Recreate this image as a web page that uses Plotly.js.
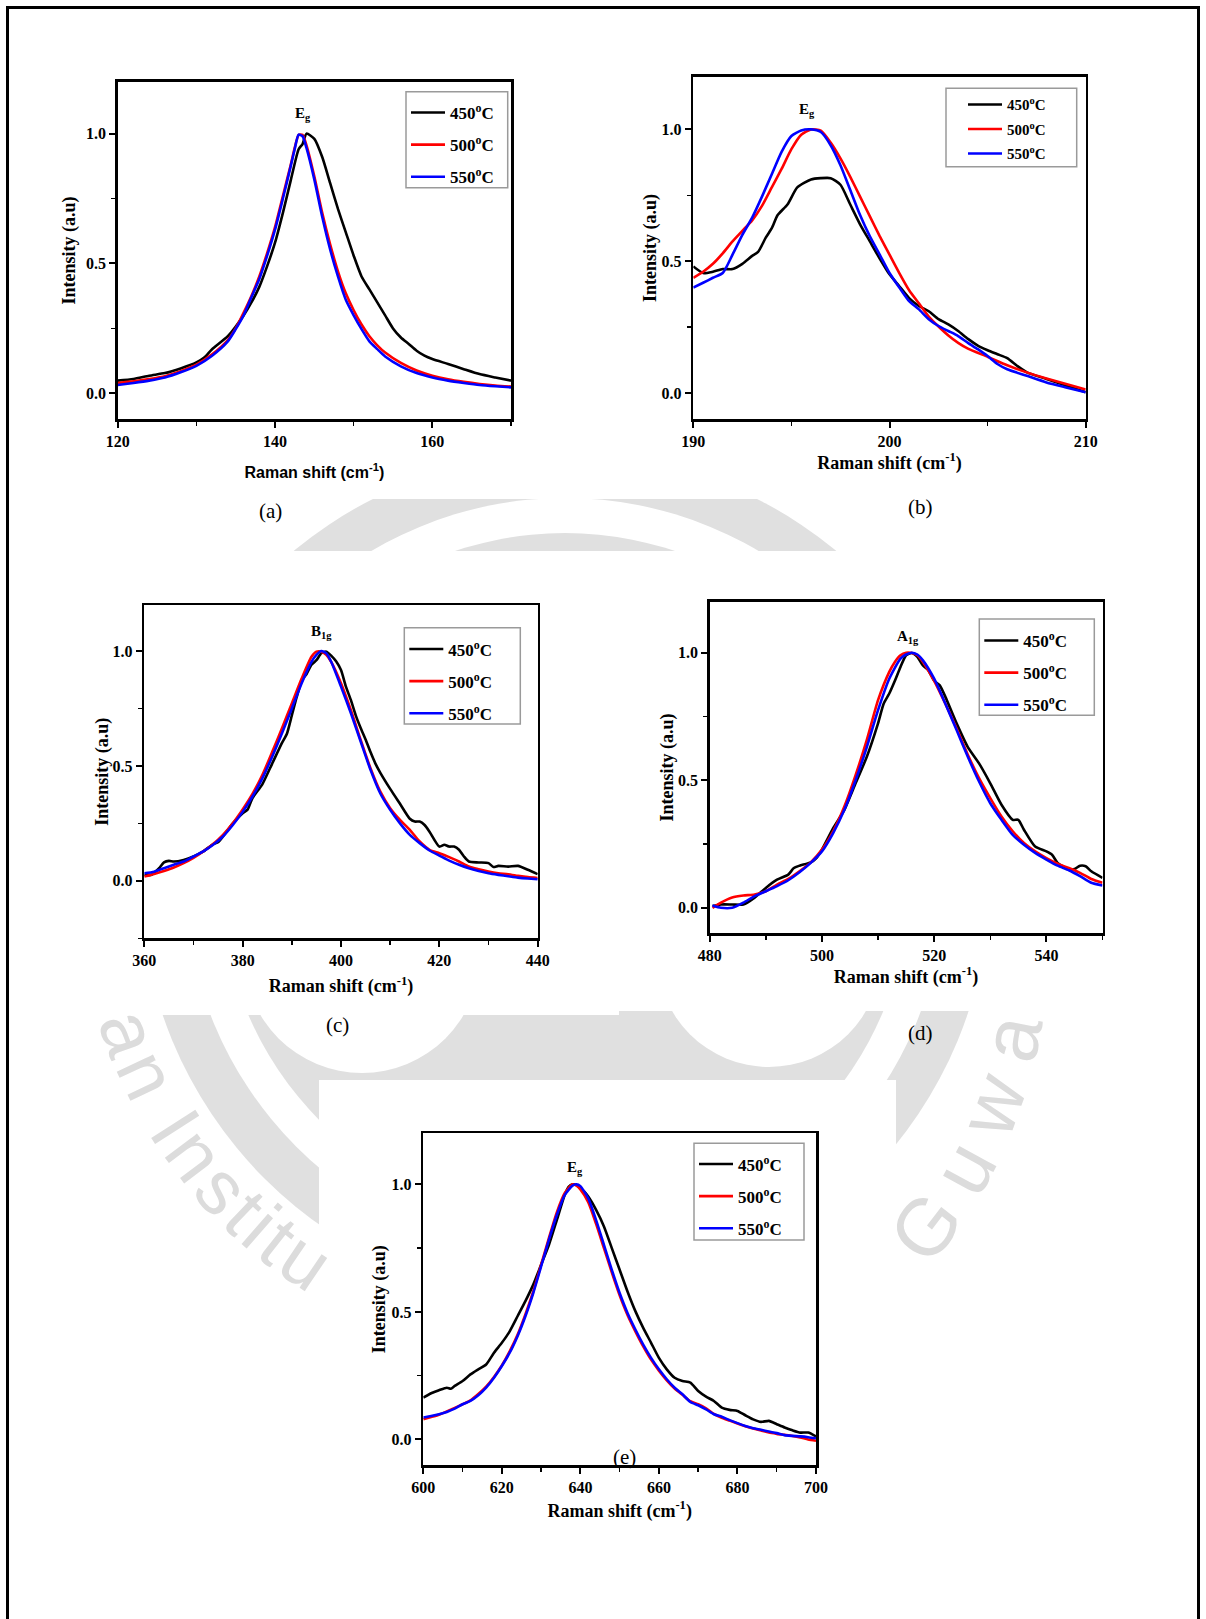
<!DOCTYPE html>
<html><head><meta charset="utf-8">
<script src="https://cdn.plot.ly/plotly-3.0.1.min.js"></script>
<style>html,body{margin:0;padding:0;background:#fff;}#chart{width:1206px;height:1619px;}</style>
</head><body><div id="chart"></div>
<script>
// ---------------- DATA ----------------
const legendNames = ['450<sup>o</sup>C', '500<sup>o</sup>C', '550<sup>o</sup>C'];

// (a) Eg ~143 cm-1
const a450x = [120,122,124,126,128,130,131,132,134,136,137,138,139,140,141,142,143,143.5,144,145,146,147,148,149,150,151,152,153,154,155,156,157,158,159,160,162,164,166,168,170];
const a450y = [0.049,0.055,0.068,0.078,0.096,0.119,0.138,0.17,0.22,0.30,0.35,0.41,0.49,0.58,0.695,0.82,0.94,0.96,1.0,0.98,0.91,0.81,0.71,0.62,0.53,0.45,0.40,0.35,0.30,0.25,0.215,0.19,0.164,0.145,0.132,0.113,0.093,0.074,0.061,0.049];
const a500x = [120,122,124,126,128,130,132,134,135,136,137,138,139,140,141,142,142.5,143,143.5,144,145,146,147,148,149,150,151,152,153,154,156,158,160,162,164,166,168,170];
const a500y = [0.04,0.046,0.055,0.066,0.085,0.11,0.15,0.205,0.25,0.31,0.375,0.45,0.54,0.64,0.76,0.88,0.945,0.995,0.995,0.955,0.835,0.695,0.575,0.47,0.385,0.32,0.265,0.22,0.185,0.157,0.117,0.088,0.068,0.054,0.044,0.036,0.030,0.026];
const a550x = [120,122,124,126,128,130,132,134,135,136,137,138,139,140,141,142,142.5,143,143.5,144,145,146,147,148,149,150,151,152,153,154,156,158,160,162,164,166,168,170];
const a550y = [0.032,0.04,0.049,0.061,0.081,0.106,0.145,0.20,0.247,0.30,0.37,0.44,0.53,0.63,0.75,0.875,0.94,0.996,0.99,0.945,0.823,0.68,0.555,0.45,0.36,0.30,0.247,0.20,0.17,0.142,0.104,0.078,0.061,0.049,0.04,0.032,0.027,0.023];

// (b) Eg ~196 cm-1
const b450x = [190,190.5,191,191.5,192,192.5,193,193.3,193.7,194,194.3,194.8,195.3,196,196.5,197,197.5,198,198.5,199,199.5,200,200.5,201,201.5,202,202.5,203,203.5,204,204.5,205,205.5,206,206.5,207,208,209,210];
const b450y = [0.48,0.455,0.46,0.47,0.47,0.49,0.52,0.535,0.59,0.625,0.675,0.715,0.78,0.81,0.815,0.815,0.79,0.715,0.64,0.575,0.51,0.45,0.405,0.36,0.33,0.31,0.28,0.26,0.235,0.205,0.18,0.162,0.147,0.132,0.103,0.078,0.053,0.028,0.003];
const b500x = [190,190.5,191,191.5,192,192.5,193,193.5,194,194.5,195,195.5,196,196.5,197,197.5,198,198.5,199,199.5,200,200.5,201,201.5,202,202.5,203,203.5,204,205,206,207,208,209,210];
const b500y = [0.437,0.46,0.49,0.53,0.575,0.615,0.655,0.71,0.78,0.85,0.925,0.98,1.0,0.995,0.95,0.89,0.82,0.745,0.67,0.595,0.525,0.455,0.39,0.34,0.29,0.252,0.218,0.19,0.168,0.137,0.105,0.078,0.055,0.034,0.013];
const b550x = [190,190.5,191,191.5,192,192.5,193,193.5,194,194.5,195,195.5,196,196.5,197,197.5,198,198.5,199,199.5,200,200.5,201,201.5,202,202.5,203,203.5,204,204.5,205,205.5,206,207,208,209,210];
const b550y = [0.40,0.418,0.437,0.455,0.525,0.60,0.665,0.745,0.83,0.915,0.975,0.996,1.0,0.99,0.94,0.864,0.77,0.675,0.594,0.525,0.455,0.40,0.348,0.317,0.28,0.254,0.235,0.216,0.19,0.166,0.14,0.11,0.09,0.065,0.04,0.021,0.003];

// (c) B1g ~396 cm-1
const c450x = [360,361.5,363,364,365,366,368,370,372,374,375,376,378,380,381,382,384,386,388,389,390,391,392,393,394,395,396,397,398,399,400,401,402,403,404,405,406,407,408,410,412,414,415,416,417,418,420,421,422,423,424,425,426,428,430,431,432,434,436,438,440];
const c450y = [0.026,0.026,0.055,0.08,0.087,0.084,0.091,0.106,0.128,0.16,0.168,0.193,0.25,0.294,0.31,0.36,0.42,0.51,0.60,0.64,0.72,0.80,0.87,0.90,0.94,0.96,0.99,0.997,0.98,0.955,0.917,0.845,0.787,0.72,0.665,0.615,0.56,0.51,0.47,0.40,0.335,0.27,0.258,0.258,0.243,0.214,0.149,0.157,0.149,0.149,0.135,0.106,0.084,0.08,0.077,0.06,0.065,0.062,0.065,0.048,0.029];
const c500x = [360,362,364,366,368,370,372,374,376,378,380,382,384,386,388,390,392,394,395,396,397,398,400,402,404,406,408,410,412,414,416,418,420,422,424,426,428,430,432,434,436,438,440];
const c500y = [0.019,0.03,0.043,0.058,0.077,0.10,0.128,0.16,0.20,0.25,0.31,0.378,0.46,0.56,0.664,0.772,0.88,0.975,0.997,0.997,0.983,0.953,0.86,0.743,0.613,0.49,0.388,0.316,0.265,0.222,0.171,0.135,0.12,0.103,0.084,0.062,0.05,0.04,0.033,0.029,0.022,0.016,0.012];
const c550x = [360,362,364,366,368,370,372,374,376,378,380,382,384,386,388,390,392,394,395,396,397,398,400,402,404,406,408,410,412,414,416,418,420,422,424,426,428,430,432,434,436,438,440];
const c550y = [0.033,0.04,0.055,0.07,0.084,0.106,0.128,0.157,0.193,0.243,0.30,0.367,0.446,0.54,0.642,0.75,0.86,0.953,0.983,1.0,0.99,0.953,0.845,0.73,0.606,0.483,0.38,0.309,0.25,0.20,0.164,0.132,0.11,0.088,0.07,0.055,0.043,0.033,0.026,0.02,0.014,0.01,0.007];

// (d) A1g ~515 cm-1
const d450x = [480.5,482,484,486,488,490,492,494,495,496,498,499,500,502,504,506,508,510,511,512,513,514,515,516,517,518,519,520,521,522,524,526,528,530,532,534,535,536,538,540,541,542,544,545,546,547,548,550];
const d450y = [0.007,0.013,0.013,0.013,0.04,0.078,0.11,0.13,0.156,0.165,0.178,0.195,0.228,0.312,0.384,0.488,0.592,0.723,0.80,0.84,0.89,0.944,0.99,0.999,0.984,0.95,0.93,0.89,0.872,0.827,0.723,0.63,0.566,0.488,0.404,0.345,0.345,0.306,0.24,0.221,0.208,0.176,0.15,0.152,0.165,0.163,0.143,0.117];
const d500x = [480.5,482,484,486,488,490,492,494,496,498,500,502,504,506,508,510,512,513,514,515,516,517,518,520,522,524,526,528,530,532,534,536,538,540,542,544,546,548,550];
const d500y = [0.0,0.02,0.04,0.048,0.052,0.065,0.091,0.113,0.143,0.178,0.228,0.30,0.397,0.52,0.658,0.814,0.925,0.964,0.99,1.0,0.999,0.99,0.964,0.89,0.80,0.703,0.60,0.508,0.43,0.358,0.30,0.254,0.221,0.195,0.173,0.156,0.137,0.113,0.098];
const d550x = [480.5,482,484,486,488,490,492,494,496,498,500,502,504,506,508,510,512,514,515,516,517,518,520,522,524,526,528,530,532,534,536,538,540,542,544,546,548,550];
const d550y = [0.009,0.0,0.0,0.02,0.046,0.065,0.085,0.108,0.139,0.176,0.221,0.293,0.384,0.50,0.63,0.775,0.898,0.977,0.993,1.0,0.993,0.97,0.898,0.80,0.697,0.592,0.495,0.41,0.345,0.286,0.247,0.215,0.189,0.165,0.147,0.124,0.098,0.087];

// (e) Eg ~639 cm-1
const e450x = [600,602,604,606,607,608,610,612,614,616,618,620,622,624,626,628,630,632,634,636,637,638,639,640,641,642,644,646,648,650,652,654,656,658,660,662,664,666,668,670,672,674,676,678,680,682,684,686,688,690,692,694,696,698,700];
const e450y = [0.164,0.181,0.193,0.203,0.199,0.21,0.229,0.255,0.275,0.294,0.34,0.379,0.424,0.483,0.542,0.607,0.685,0.763,0.86,0.958,0.99,1.0,0.997,0.984,0.971,0.952,0.90,0.835,0.75,0.665,0.58,0.503,0.4375,0.379,0.32,0.275,0.242,0.229,0.223,0.19,0.168,0.151,0.125,0.116,0.112,0.095,0.079,0.069,0.073,0.06,0.047,0.036,0.027,0.027,0.012];
const e500x = [600,602,604,606,608,610,612,614,616,618,620,622,624,626,628,630,632,634,636,638,639,640,642,644,646,648,650,652,654,656,658,660,662,664,666,668,670,672,674,676,678,680,682,684,686,688,690,692,694,696,698,700];
const e500y = [0.079,0.088,0.097,0.11,0.124,0.138,0.153,0.178,0.207,0.245,0.29,0.345,0.41,0.49,0.58,0.685,0.79,0.89,0.965,1.0,0.995,0.98,0.93,0.845,0.75,0.655,0.565,0.488,0.424,0.365,0.313,0.27,0.232,0.2,0.175,0.15,0.138,0.122,0.1,0.085,0.074,0.063,0.052,0.043,0.035,0.027,0.022,0.018,0.014,0.008,0.0,-0.005];
const e550x = [600,602,604,606,608,610,612,614,616,618,620,622,624,626,628,630,632,634,636,638,639,640,642,644,646,648,650,652,654,656,658,660,662,664,666,668,670,672,674,676,678,680,682,684,686,688,690,692,694,696,698,700];
const e550y = [0.086,0.092,0.099,0.108,0.121,0.138,0.151,0.173,0.203,0.242,0.288,0.34,0.405,0.483,0.574,0.678,0.783,0.88,0.958,0.995,1.0,0.993,0.945,0.86,0.763,0.665,0.574,0.496,0.431,0.372,0.32,0.275,0.236,0.203,0.177,0.147,0.134,0.118,0.099,0.089,0.076,0.064,0.053,0.044,0.038,0.031,0.025,0.017,0.014,0.012,0.009,0.005];

// ---------------- LAYOUT HELPERS ----------------
const W = 1206, H = 1619;
const px = v => v / W;
const py = v => 1 - v / H;
const SERIF = 'Liberation Serif, Times New Roman, serif';
const SANS = 'Liberation Sans, Arial, sans-serif';
const lineColors = ['#000000', '#ff0000', '#0000ff'];

const panels = [
  {xs:[a450x,a500x,a550x], ys:[a450y,a500y,a550y], xr:[120,170], yr:[-0.1,1.2], dt:20, mdt:10,
   box:[117.7,81.7,511,419.3], leg:[406,91.7,507.7,187.7], lpos:[406,95], lfont:17, lgap:7,
   peak:['E<sub>g</sub>',143.6,1.075], xfont:SANS, xsize:16, xstand:18, ystand:6, cap:['(a)',270,511]},
  {xs:[b450x,b500x,b550x], ys:[b450y,b500y,b550y], xr:[190,210], yr:[-0.1,1.2], dt:10, mdt:5,
   box:[693.3,76.7,1085.7,419.3], leg:[946,88.3,1076.7,166.7], lpos:[963,88.3], lfont:15, lgap:2,
   peak:['E<sub>g</sub>',195.8,1.072], xfont:SERIF, xsize:18, xstand:6, ystand:1, cap:['(b)',920,507]},
  {xs:[c450x,c500x,c550x], ys:[c450y,c500y,c550y], xr:[360,440], yr:[-0.25,1.2], dt:20, mdt:10,
   box:[144.3,605,537.7,938.3], leg:[404.3,627.7,520.3,724], lpos:[404.3,631.5], lfont:17, lgap:7,
   peak:['B<sub>1g</sub>',396.1,1.084], xfont:SERIF, xsize:18, xstand:12, ystand:0, cap:['(c)',337.6,1025]},
  {xs:[d450x,d500x,d550x], ys:[d450y,d500y,d550y], xr:[480,550], yr:[-0.1,1.2], dt:20, mdt:10,
   box:[709.7,601.7,1102.5,933.3], leg:[979.3,619,1094.3,715.3], lpos:[979.3,623], lfont:17, lgap:7,
   peak:['A<sub>1g</sub>',515.4,1.061], xfont:SERIF, xsize:18, xstand:6, ystand:0, cap:['(d)',920,1033]},
  {xs:[e450x,e500x,e550x], ys:[e450y,e500y,e550y], xr:[600,700], yr:[-0.1,1.2], dt:20, mdt:10,
   box:[423.3,1133.3,816,1465], leg:[694,1143.3,804,1240], lpos:[694,1146.5], lfont:17, lgap:7,
   peak:['E<sub>g</sub>',638.6,1.0625], xfont:SERIF, xsize:18, xstand:10, ystand:2, cap:['(e)',624,1457]}
];

const traces = [];
const layout = {
  width: W, height: H,
  margin: {l:0, r:0, t:0, b:0},
  paper_bgcolor: '#ffffff',
  plot_bgcolor: 'rgba(0,0,0,0)',
  showlegend: true,
  shapes: [],
  annotations: []
};

// ---------------- WATERMARK (decoration) ----------------
const WM = '#e0e0e0';
const wcx = 565, wcy = 878;
function circ(cx, cy, r, color) {
  return {type:'circle', xref:'paper', yref:'paper', layer:'below',
    x0:px(cx-r), x1:px(cx+r), y0:py(cy+r), y1:py(cy-r),
    fillcolor:color, line:{width:0}};
}
layout.shapes.push(circ(wcx, wcy, 425, WM));
layout.shapes.push(circ(wcx, wcy, 380, '#ffffff'));
layout.shapes.push(circ(wcx, wcy, 345, WM));
layout.shapes.push(circ(362, 955, 118, '#ffffff'));
layout.shapes.push(circ(769, 955, 112, '#ffffff'));
function wrect(x0, y0, x1, y1) {
  return {type:'rect', xref:'paper', yref:'paper', layer:'below',
    x0:px(x0), x1:px(x1), y0:py(y1), y1:py(y0), fillcolor:'#ffffff', line:{width:0}};
}
layout.shapes.push(wrect(0, 0, W, 499));
layout.shapes.push(wrect(0, 551, W, 1011));
layout.shapes.push(wrect(0, 1011, 619, 1015));
layout.shapes.push(wrect(319, 1080, 896, H));
const charW = {'a':.556,'n':.556,' ':.278,'I':.278,'s':.5,'t':.278,'i':.222,'u':.556,'G':.778,'w':.722};
function arcText(str, cx, cy, startDeg, R, fs, track) {
  let cum = 0;
  for (const ch of str) {
    const w = charW[ch] * fs;
    const ang = startDeg - ((cum + w/2) / R) * 180 / Math.PI;
    cum += w + track;
    if (ch === ' ') continue;
    const r = ang * Math.PI / 180;
    layout.annotations.push({xref:'paper', yref:'paper', x:px(cx + R*Math.cos(r)), y:py(cy + R*Math.sin(r)),
      text:ch, showarrow:false, textangle: ang - 90, xanchor:'center', yanchor:'middle',
      font:{family:SANS, size:fs, color:'#dcdcdc'}});
  }
}
arcText('an Institu', wcx, wcy, 163, 462, 76, 3);
arcText('Guwa', 565, 950, 41.5, 455, 80, 18);

// page frame
layout.shapes.push({type:'rect', xref:'paper', yref:'paper', layer:'above',
  x0:px(7.5), x1:px(1198.5), y0:py(1650), y1:py(7.5), line:{color:'#000', width:3}, fillcolor:'rgba(0,0,0,0)'});

// ---------------- PANELS ----------------
panels.forEach((p, i) => {
  const n = i === 0 ? '' : String(i + 1);
  const xa = 'xaxis' + n, ya = 'yaxis' + n, legKey = 'legend' + n;
  const xr = 'x' + n, yr = 'y' + n;
  for (let k = 0; k < 3; k++) {
    traces.push({
      type:'scatter', mode:'lines', x:p.xs[k], y:p.ys[k], xaxis:xr, yaxis:yr,
      name:legendNames[k], legend:legKey, legendgroup:'g' + i + k,
      line:{color:lineColors[k], width:2.6, shape:'spline', smoothing:0.6},
      hoverinfo:'skip'
    });
  }
  const [bx0, by0, bx1, by1] = p.box;
  layout[xa] = {
    domain:[px(bx0), px(bx1)], range:p.xr, anchor:yr,
    showline:true, mirror:true, linecolor:'#000', linewidth:2.5,
    ticks:'outside', ticklen:6, tickwidth:2, tickcolor:'#000',
    tick0:p.xr[0], dtick:p.dt,
    minor:{ticks:'outside', ticklen:4, tickwidth:1.5, tickcolor:'#000', dtick:p.mdt, tick0:p.xr[0]},
    showgrid:false, zeroline:false,
    tickfont:{family:SERIF, size:16, color:'#000', weight:700},
    title:{text:'Raman shift (cm<sup>-1</sup>)', font:{family:p.xfont, size:p.xsize, color:'#000', weight:700}, standoff:p.xstand}
  };
  layout[ya] = {
    domain:[py(by1), py(by0)], range:p.yr, anchor:xr,
    showline:true, mirror:true, linecolor:'#000', linewidth:2.5,
    ticks:'outside', ticklen:6, tickwidth:2, tickcolor:'#000',
    tick0:0, dtick:0.5, tickformat:'.1f',
    minor:{ticks:'outside', ticklen:4, tickwidth:1.5, tickcolor:'#000', dtick:0.25, tick0:0},
    showgrid:false, zeroline:false,
    tickfont:{family:SERIF, size:16, color:'#000', weight:700},
    title:{text:'Intensity (a.u)', font:{family:SERIF, size:18, color:'#000', weight:700}, standoff:p.ystand}
  };
  const [l0, t0, l1, t1] = p.leg;
  layout[legKey] = {
    x:px(p.lpos[0]), y:py(p.lpos[1]), xanchor:'left', yanchor:'top', xref:'paper', yref:'paper',
    borderwidth:0, bgcolor:'rgba(255,255,255,0)',
    font:{family:SERIF, size:p.lfont, color:'#000', weight:700},
    traceorder:'grouped', tracegroupgap:p.lgap, itemwidth:34
  };
  layout.shapes.push({type:'rect', xref:'paper', yref:'paper', layer:'above',
    x0:px(l0), x1:px(l1), y0:py(t1), y1:py(t0), line:{color:'#9a9a9a', width:1.5}, fillcolor:'rgba(0,0,0,0)'});
  layout.annotations.push({xref:xr, yref:yr, x:p.peak[1], y:p.peak[2], text:p.peak[0], showarrow:false,
    xanchor:'center', yanchor:'middle', font:{family:SERIF, size:15, color:'#000', weight:700}});
  layout.annotations.push({xref:'paper', yref:'paper', x:px(p.cap[1]), y:py(p.cap[2]), text:p.cap[0], showarrow:false,
    xanchor:'center', yanchor:'middle', font:{family:SERIF, size:21, color:'#000'}});
});

Plotly.newPlot('chart', traces, layout, {staticPlot:true, displayModeBar:false});
</script></body></html>
